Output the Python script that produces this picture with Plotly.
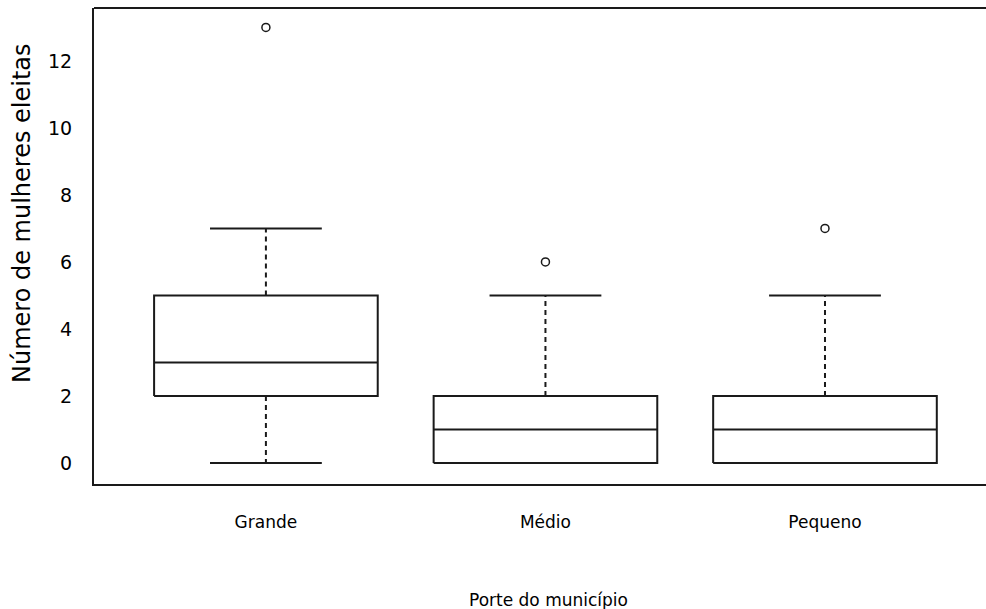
import plotly.graph_objects as go

# Box-plot summary: number of women elected, by municipality size
categories = ["Grande", "Médio", "Pequeno"]
lower_whisker = [0, 0, 0]
q1 = [2, 0, 0]
median = [3, 1, 1]
q3 = [5, 2, 2]
upper_whisker = [7, 5, 5]
outliers = [[13], [6], [7]]

y_ticks = [0, 2, 4, 6, 8, 10, 12]

LINE = "#1a1a1a"
LW = 2
BOX_HALF = 0.4
CAP_HALF = 0.2

fig = go.Figure()

for i, cat in enumerate(categories):
    c = i + 1
    # box body
    fig.add_trace(go.Scatter(
        x=[c - BOX_HALF, c + BOX_HALF, c + BOX_HALF, c - BOX_HALF, c - BOX_HALF],
        y=[q1[i], q1[i], q3[i], q3[i], q1[i]],
        mode="lines", line=dict(color=LINE, width=LW), hoverinfo="skip", showlegend=False))
    # median
    fig.add_trace(go.Scatter(
        x=[c - BOX_HALF, c + BOX_HALF], y=[median[i], median[i]],
        mode="lines", line=dict(color=LINE, width=LW), hoverinfo="skip", showlegend=False))
    # dashed whiskers
    for a, b in ((q3[i], upper_whisker[i]), (q1[i], lower_whisker[i])):
        if a != b:
            fig.add_trace(go.Scatter(
                x=[c, c], y=[a, b], mode="lines",
                line=dict(color=LINE, width=LW, dash="5px,4px"),
                hoverinfo="skip", showlegend=False))
    # whisker caps
    for v in (upper_whisker[i], lower_whisker[i]):
        fig.add_trace(go.Scatter(
            x=[c - CAP_HALF, c + CAP_HALF], y=[v, v], mode="lines",
            line=dict(color=LINE, width=LW), hoverinfo="skip", showlegend=False))
    # outliers
    fig.add_trace(go.Scatter(
        x=[c] * len(outliers[i]), y=outliers[i], mode="markers",
        marker=dict(symbol="circle-open", size=8, color=LINE, line=dict(width=1.5, color=LINE)),
        showlegend=False))

FONT = "DejaVu Sans"

fig.update_layout(
    width=986, height=609,
    margin=dict(l=94, r=0, t=8, b=125),
    paper_bgcolor="white", plot_bgcolor="white",
    font=dict(family=FONT, color="black"),
    xaxis=dict(
        range=[0.385, 3.576],
        tickvals=[1, 2, 3], ticktext=categories,
        tickfont=dict(size=17, family=FONT, color="black"),
        ticks="", ticklabelstandoff=22,
        showgrid=False, zeroline=False,
        showline=True, linecolor=LINE, linewidth=LW,
    ),
    yaxis=dict(
        range=[-0.63, 13.58],
        tickvals=y_ticks, ticktext=[str(v) for v in y_ticks],
        tickfont=dict(size=19, family=FONT, color="black"),
        ticks="", ticklabelstandoff=16,
        showgrid=False, zeroline=False,
        showline=True, linecolor=LINE, linewidth=LW,
    ),
    shapes=[dict(type="line", xref="paper", yref="paper", x0=0, x1=1, y0=1, y1=1,
                 line=dict(color=LINE, width=LW))],
    annotations=[
        dict(text="Porte do município", xref="paper", yref="paper",
             x=(548 - 94) / 892, y=-116 / 476, xanchor="center", yanchor="middle",
             showarrow=False, font=dict(size=17, family=FONT, color="black")),
        dict(text="Número de mulheres eleitas", xref="paper", yref="paper",
             x=-72 / 892, y=(484 - 213) / 476, xanchor="center", yanchor="middle",
             textangle=-90, showarrow=False, font=dict(size=24, family=FONT, color="black")),
    ],
)

fig.write_html("out.html")
